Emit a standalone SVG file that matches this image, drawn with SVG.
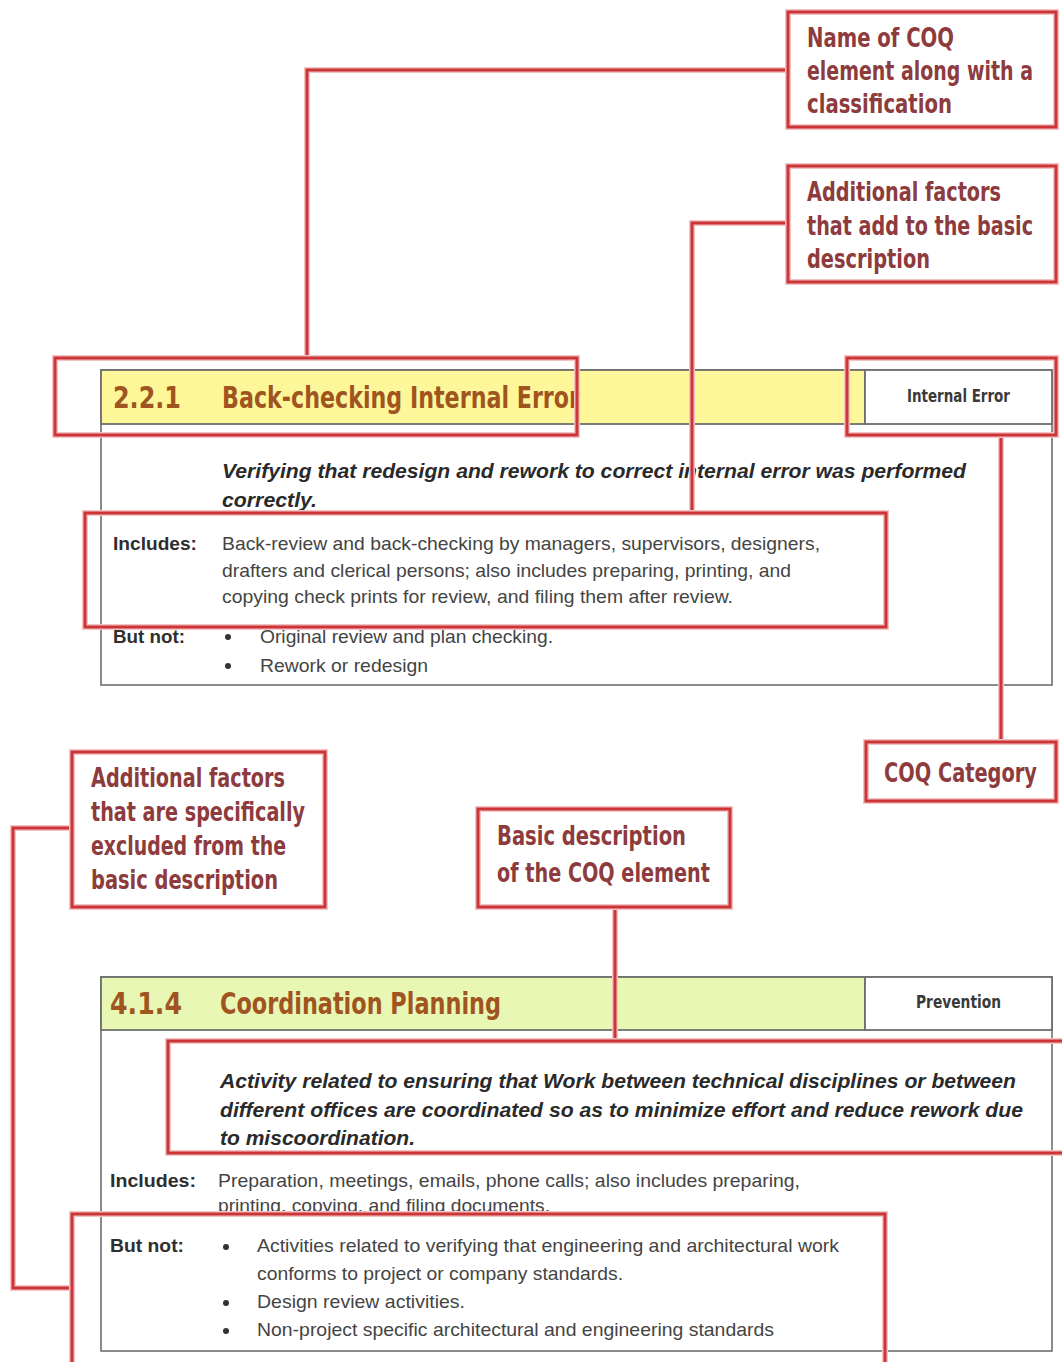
<svg xmlns="http://www.w3.org/2000/svg" width="1062" height="1362" viewBox="0 0 1062 1362">
<style>
.card{fill:#ffffff;stroke:#6e6e6e;stroke-width:1.6}
.hdr1{fill:#fdf79a;stroke:#6e6e6e;stroke-width:1.8}
.hdr2{fill:#e9f7b4;stroke:#6e6e6e;stroke-width:1.8}
.cell{fill:#ffffff;stroke:#6e6e6e;stroke-width:1.8}
.halo{fill:none;stroke:#f3c2c2;stroke-width:6}
.red{fill:none;stroke:#cd3438;stroke-width:3}
.cbox{fill:#ffffff}
.ct{font-family:"Liberation Sans Narrow","DejaVu Sans Condensed","Liberation Sans",sans-serif;font-weight:bold;font-size:26px;fill:#8e3b3d}
.ttl{font-family:"Liberation Sans Narrow","DejaVu Sans Condensed","Liberation Sans",sans-serif;font-weight:bold;font-size:31px;fill:#a0541f}
.cat{font-family:"Liberation Sans Narrow","DejaVu Sans Condensed","Liberation Sans",sans-serif;font-weight:bold;font-size:18px;fill:#3a3a3a}
.desc{font-family:"Liberation Sans Narrow","Liberation Sans",sans-serif;font-weight:bold;font-style:italic;font-size:21px;fill:#2a2a2a}
.lbl{font-family:"Liberation Sans Narrow","Liberation Sans",sans-serif;font-weight:bold;font-size:19px;fill:#2e2e2e}
.txt{font-family:"Liberation Sans Narrow","Liberation Sans",sans-serif;font-size:19px;fill:#444444}
.bul{fill:#333333}
</style>

<g id="card1">
  <rect class="card" x="101" y="370" width="951" height="315"/>
  <rect class="hdr1" x="101" y="370" width="764" height="54"/>
  <rect class="cell" x="865" y="370" width="187" height="54"/>
  <text class="ttl" x="113" y="408" textLength="68" lengthAdjust="spacingAndGlyphs">2.2.1</text>
  <text class="ttl" x="222" y="408" textLength="358" lengthAdjust="spacingAndGlyphs">Back-checking Internal Error</text>
  <text class="cat" x="907" y="402" textLength="103" lengthAdjust="spacingAndGlyphs">Internal Error</text>
  <text class="desc" x="222" y="478" textLength="744" lengthAdjust="spacingAndGlyphs">Verifying that redesign and rework to correct internal error was performed</text>
  <text class="desc" x="222" y="507" textLength="95" lengthAdjust="spacingAndGlyphs">correctly.</text>
  <text class="lbl" x="113" y="550" textLength="84" lengthAdjust="spacingAndGlyphs">Includes:</text>
  <text class="txt" x="222" y="550" textLength="598" lengthAdjust="spacingAndGlyphs">Back-review and back-checking by managers, supervisors, designers,</text>
  <text class="txt" x="222" y="577" textLength="569" lengthAdjust="spacingAndGlyphs">drafters and clerical persons; also includes preparing, printing, and</text>
  <text class="txt" x="222" y="603" textLength="511" lengthAdjust="spacingAndGlyphs">copying check prints for review, and filing them after review.</text>
  <text class="lbl" x="113" y="643" textLength="72" lengthAdjust="spacingAndGlyphs">But not:</text>
  <circle class="bul" cx="228" cy="637" r="3"/>
  <text class="txt" x="260" y="643" textLength="293" lengthAdjust="spacingAndGlyphs">Original review and plan checking.</text>
  <circle class="bul" cx="228" cy="666" r="3"/>
  <text class="txt" x="260" y="672" textLength="168" lengthAdjust="spacingAndGlyphs">Rework or redesign</text>
</g>

<g id="card2">
  <rect class="card" x="101" y="977" width="951" height="374"/>
  <rect class="hdr2" x="101" y="977" width="764" height="53"/>
  <rect class="cell" x="865" y="977" width="187" height="53"/>
  <text class="ttl" x="110" y="1014" textLength="72" lengthAdjust="spacingAndGlyphs">4.1.4</text>
  <text class="ttl" x="220" y="1014" textLength="281" lengthAdjust="spacingAndGlyphs">Coordination Planning</text>
  <text class="cat" x="916" y="1008" textLength="85" lengthAdjust="spacingAndGlyphs">Prevention</text>
  <text class="desc" x="220" y="1088" textLength="796" lengthAdjust="spacingAndGlyphs">Activity related to ensuring that Work between technical disciplines or between</text>
  <text class="desc" x="220" y="1117" textLength="803" lengthAdjust="spacingAndGlyphs">different offices are coordinated so as to minimize effort and reduce rework due</text>
  <text class="desc" x="220" y="1145" textLength="195" lengthAdjust="spacingAndGlyphs">to miscoordination.</text>
  <text class="lbl" x="110" y="1187" textLength="86" lengthAdjust="spacingAndGlyphs">Includes:</text>
  <text class="txt" x="218" y="1187" textLength="582" lengthAdjust="spacingAndGlyphs">Preparation, meetings, emails, phone calls; also includes preparing,</text>
  <text class="txt" x="218" y="1212" textLength="332" lengthAdjust="spacingAndGlyphs">printing, copying, and filing documents.</text>
  <text class="lbl" x="110" y="1252" textLength="74" lengthAdjust="spacingAndGlyphs">But not:</text>
  <circle class="bul" cx="226" cy="1247" r="3"/>
  <text class="txt" x="257" y="1252" textLength="582" lengthAdjust="spacingAndGlyphs">Activities related to verifying that engineering and architectural work</text>
  <text class="txt" x="257" y="1280" textLength="366" lengthAdjust="spacingAndGlyphs">conforms to project or company standards.</text>
  <circle class="bul" cx="226" cy="1303" r="3"/>
  <text class="txt" x="257" y="1308" textLength="208" lengthAdjust="spacingAndGlyphs">Design review activities.</text>
  <circle class="bul" cx="226" cy="1331" r="3"/>
  <text class="txt" x="257" y="1336" textLength="517" lengthAdjust="spacingAndGlyphs">Non-project specific architectural and engineering standards</text>
</g>

<g id="connectors">
  <path class="halo" d="M788,70 H307 V358 M788,223 H692 V513 M1001,436 V742 M72,828 H13 V1288 H72 M615,907 V1041"/>
  <path class="red" d="M788,70 H307 V358 M788,223 H692 V513 M1001,436 V742 M72,828 H13 V1288 H72 M615,907 V1041"/>
</g>

<g id="highlight-title">
  <rect class="halo" x="55" y="358" width="522" height="77"/>
  <rect class="red" x="55" y="358" width="522" height="77"/>
</g>
<g id="highlight-category">
  <rect class="halo" x="847" y="358" width="209" height="77"/>
  <rect class="red" x="847" y="358" width="209" height="77"/>
</g>
<g id="highlight-includes">
  <rect class="halo" x="85" y="513" width="801" height="114"/>
  <rect class="red" x="85" y="513" width="801" height="114"/>
</g>
<g id="highlight-description">
  <rect class="halo" x="168" y="1041" width="910" height="112"/>
  <rect class="red" x="168" y="1041" width="910" height="112"/>
</g>
<g id="highlight-butnot">
  <rect class="halo" x="72" y="1214" width="813" height="170"/>
  <rect class="red" x="72" y="1214" width="813" height="170"/>
</g>

<g id="callout-name">
  <rect class="cbox" x="788" y="12" width="268" height="115"/>
  <rect class="halo" x="788" y="12" width="268" height="115"/>
  <rect class="red" x="788" y="12" width="268" height="115"/>
  <text class="ct" x="807" y="47" textLength="147" lengthAdjust="spacingAndGlyphs">Name of COQ</text>
  <text class="ct" x="807" y="80" textLength="226" lengthAdjust="spacingAndGlyphs">element along with a</text>
  <text class="ct" x="807" y="113" textLength="145" lengthAdjust="spacingAndGlyphs">classification</text>
</g>
<g id="callout-additional">
  <rect class="cbox" x="788" y="166" width="268" height="116"/>
  <rect class="halo" x="788" y="166" width="268" height="116"/>
  <rect class="red" x="788" y="166" width="268" height="116"/>
  <text class="ct" x="807" y="201" textLength="194" lengthAdjust="spacingAndGlyphs">Additional factors</text>
  <text class="ct" x="807" y="235" textLength="226" lengthAdjust="spacingAndGlyphs">that add to the basic</text>
  <text class="ct" x="807" y="268" textLength="123" lengthAdjust="spacingAndGlyphs">description</text>
</g>
<g id="callout-category">
  <rect class="cbox" x="866" y="742" width="190" height="59"/>
  <rect class="halo" x="866" y="742" width="190" height="59"/>
  <rect class="red" x="866" y="742" width="190" height="59"/>
  <text class="ct" x="884" y="782" textLength="153" lengthAdjust="spacingAndGlyphs">COQ Category</text>
</g>
<g id="callout-excluded">
  <rect class="cbox" x="72" y="752" width="253" height="155"/>
  <rect class="halo" x="72" y="752" width="253" height="155"/>
  <rect class="red" x="72" y="752" width="253" height="155"/>
  <text class="ct" x="91" y="787" textLength="194" lengthAdjust="spacingAndGlyphs">Additional factors</text>
  <text class="ct" x="91" y="821" textLength="214" lengthAdjust="spacingAndGlyphs">that are specifically</text>
  <text class="ct" x="91" y="855" textLength="195" lengthAdjust="spacingAndGlyphs">excluded from the</text>
  <text class="ct" x="91" y="889" textLength="187" lengthAdjust="spacingAndGlyphs">basic description</text>
</g>
<g id="callout-basic">
  <rect class="cbox" x="478" y="809" width="252" height="98"/>
  <rect class="halo" x="478" y="809" width="252" height="98"/>
  <rect class="red" x="478" y="809" width="252" height="98"/>
  <text class="ct" x="497" y="845" textLength="189" lengthAdjust="spacingAndGlyphs">Basic description</text>
  <text class="ct" x="497" y="882" textLength="213" lengthAdjust="spacingAndGlyphs">of the COQ element</text>
</g>
</svg>
